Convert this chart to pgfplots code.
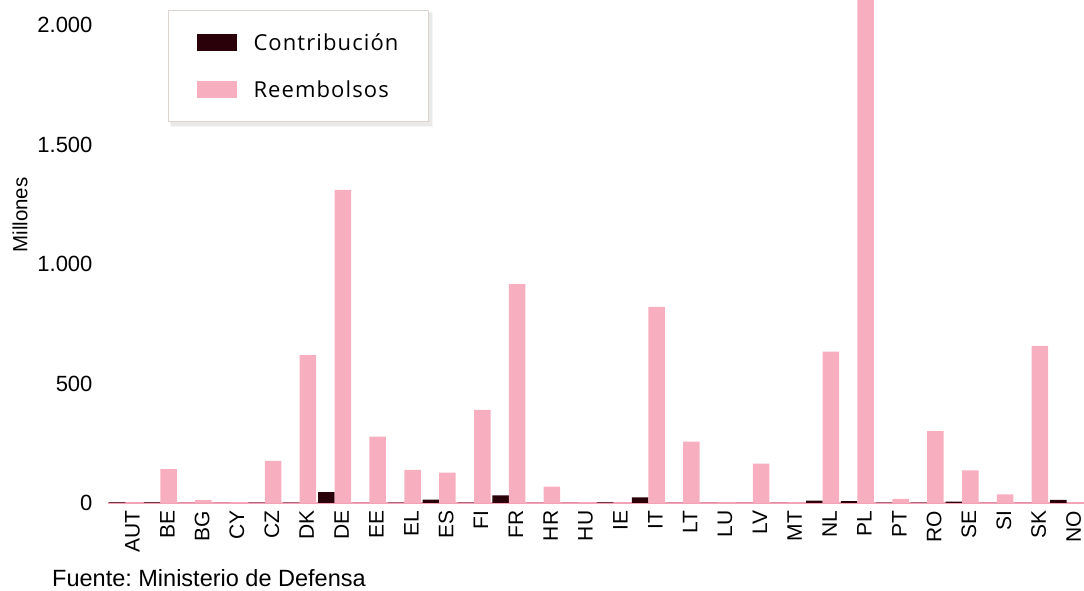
\documentclass[border=0pt]{standalone}
\usepackage{pgfplots}
\pgfplotsset{compat=1.18}
\usepackage{pgfplotstable}
\usepackage{fontspec}
\setmainfont{Liberation Sans}
\newfontfamily\legfont{Open Sans}[LetterSpace=5]
\definecolor{contrib}{HTML}{2A0009}
\definecolor{reemb}{HTML}{F7AFC0}
\definecolor{axpink}{HTML}{F4A3B7}
\definecolor{legborder}{HTML}{DDD3CF}

\pgfplotstableread{
idx contrib reemb
0  3  0
1  3  142
2  0  12
3  1  2
4  2  176
5  2  619
6  46 1310
7  0  278
8  2  139
9  14 127
10 2  390
11 32 916
12 0  68
13 0  2
14 3  0
15 24 821
16 0  257
17 0  1
18 0  165
19 1  0
20 10 633
21 8  2300
22 2  17
23 2  301
24 6  136
25 0  36
26 0  658
27 13 0
}\datatable

\begin{document}
\frenchspacing
\begin{tikzpicture}[x=1pt,y=1pt]
\path[use as bounding box] (0,0) rectangle (1084,591);
% soft shadow behind the legend box
\fill[black, opacity=0.05] (170,465) rectangle (432,579);
\fill[black, opacity=0.04] (171,464) rectangle (433,578);
\begin{axis}[
  at={(108pt,88pt)}, anchor=south west,
  scale only axis, width=976pt, height=503pt,
  xmin=-0.5, xmax=27.5, ymin=0, ymax=2105,
  axis x line*=bottom, axis y line*=left,
  x axis line style={draw=axpink, line width=1.2pt},
  y axis line style={draw=none},
  ybar, bar width=16.5pt,
  xtick={0,...,27},
  xticklabels={AUT,BE,BG,CY,CZ,DK,DE,EE,EL,ES,FI,FR,HR,HU,IE,IT,LT,LU,LV,MT,NL,PL,PT,RO,SE,SI,SK,NO},
  x tick label style={rotate=90, anchor=east, font=\fontsize{21}{24}\selectfont, yshift=-7pt},
  major x tick style={draw=none},
  extra x ticks={-0.5,0.5,...,27.5}, extra x tick labels={},
  extra x tick style={major tick length=7pt, tick align=outside, tick style={draw=axpink, line width=1pt}},
  ytick={0,500,1000,1500,2000}, yticklabels={0,500,1.000,1.500,2.000},
  y tick label style={font=\fontsize{22}{25}\selectfont, xshift=-12pt},
  ytick style={draw=none},
  legend cell align=left,
  legend style={at={(0.0615,0.98)}, anchor=north west, draw=legborder, line width=1pt, fill=white,
    font=\legfont\fontsize{22}{26}\selectfont,
    inner xsep=28pt, inner ysep=8.5pt, row sep=0pt},
]
\addplot[fill=contrib, draw=none, bar shift=-8.25pt,
  legend image code/.code={\path[draw=none,fill=none] (0pt,-23.5pt) rectangle (55pt,23.5pt);
    \fill[contrib] (0pt,-8.5pt) rectangle (40pt,8.5pt);}]
  table[x=idx,y=contrib]{\datatable};
\addlegendentry{Contribución}
\addplot[fill=reemb, draw=none, bar shift=8.25pt,
  legend image code/.code={\path[draw=none,fill=none] (0pt,-23.5pt) rectangle (55pt,23.5pt);
    \fill[reemb] (0pt,-8.5pt) rectangle (40pt,8.5pt);}]
  table[x=idx,y=reemb]{\datatable};
\addlegendentry{Reembolsos}
\end{axis}
\node[rotate=90, font=\fontsize{20.5}{24}\selectfont] at (20,376) {Millones};
\node[anchor=base west, font=\fontsize{23.5}{28}\selectfont, inner sep=0pt] at (52,4) {Fuente: Ministerio de Defensa};
\end{tikzpicture}
\end{document}
